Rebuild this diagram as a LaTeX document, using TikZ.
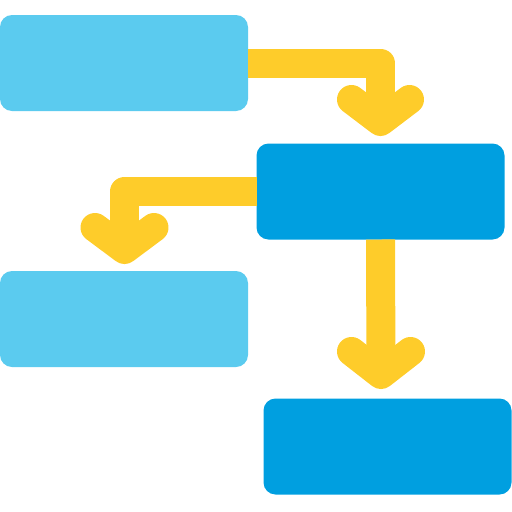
\documentclass[tikz,border=0pt]{standalone}
\usetikzlibrary{calc}
\definecolor{lblue}{RGB}{91,203,239}
\definecolor{dblue}{RGB}{0,159,224}
\definecolor{yel}{RGB}{254,204,42}
\begin{document}
\begin{tikzpicture}[x=1pt,y=-1pt,
  boxbase/.style={inner sep=0pt,outer sep=0pt,rounded corners=12pt,minimum width=248pt,minimum height=96pt},
  lbox/.style={boxbase,fill=lblue},
  dbox/.style={boxbase,fill=dblue},
  shaft/.style={draw=yel,line width=29pt,line join=round,line cap=butt},
  chev/.style={draw=yel,line width=29pt,line join=round,line cap=round}]
\useasboundingbox (0,0) rectangle (512,512);
% shafts first
\coordinate (t1) at (380.5,121.5);
\coordinate (t2) at (124.5,249.5);
\coordinate (t3) at (381,374.5);
\node[lbox] (A) at (124,63) {};
\node[dbox] (B) at (380.5,191.5) {};
\node[lbox] (C) at (124,319) {};
\node[dbox] (D) at (387.5,446.5) {};
\draw[shaft] (A.east) -| (t1);
\draw[chev] ($(t1)+(-29,-22)$) -- (t1) -- ($(t1)+(29,-22)$);
\draw[shaft] (B.west) -| (t2);
\draw[chev] ($(t2)+(-29.5,-22)$) -- (t2) -- ($(t2)+(29.5,-22)$);
\draw[shaft] (B.south) -- (t3);
\draw[chev] ($(t3)+(-29.5,-23)$) -- (t3) -- ($(t3)+(29.5,-23)$);
\end{tikzpicture}
\end{document}
